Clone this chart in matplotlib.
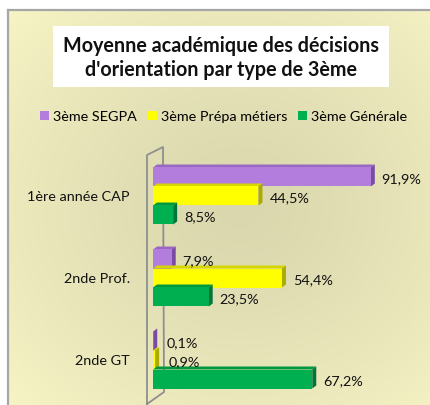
import numpy as np
import matplotlib
matplotlib.use("Agg")
import matplotlib.pyplot as plt
from matplotlib.patches import Patch, Rectangle
from matplotlib.lines import Line2D

plt.rcParams['font.family'] = ['Lato', 'DejaVu Sans']

categories = ["1ère année CAP", "2nde Prof.", "2nde GT"]
series = ["3ème SEGPA", "3ème Prépa métiers", "3ème Générale"]
values = {
    "3ème SEGPA": [91.9, 7.9, 0.1],
    "3ème Prépa métiers": [44.5, 54.4, 0.9],
    "3ème Générale": [8.5, 23.5, 67.2],
}
colors = ["#b27ddc", "#ffff00", "#00b050"]
top_colors = ["#9968c2", "#d6d600", "#00983f"]
side_colors = ["#7a4ba3", "#aaaa00", "#00763a"]
title = "Moyenne académique des décisions\nd'orientation par type de 3ème"

W, H = 430, 405
fig = plt.figure(figsize=(W / 100, H / 100), dpi=100)
fig.patch.set_facecolor("white")

def fx(px):
    return px / W

def fy(py):
    return 1 - py / H

# background frame with radial gradient
bg = fig.add_axes([fx(8), 0, 1 - fx(8), 1 - (10 / H)], zorder=-5)
ny, nx = 200, 220
yy, xx = np.mgrid[0:1:ny * 1j, 0:1:nx * 1j]
r = np.sqrt(((xx - 0.55) / 0.8) ** 2 + ((yy - 0.5) / 0.75) ** 2)
t = np.clip(r, 0, 1) ** 1.3
c_dark = np.array([0xda, 0xd7, 0xae]) / 255
c_light = np.array([0xf8, 0xf6, 0xc6]) / 255
img = c_dark[None, None, :] * (1 - t[..., None]) + c_light[None, None, :] * t[..., None]
bg.imshow(img, aspect="auto", extent=[0, 1, 0, 1], origin="upper")
bg.set_xlim(0, 1)
bg.set_ylim(0, 1)
bg.set_xticks([])
bg.set_yticks([])
for s in ["right", "bottom"]:
    bg.spines[s].set_visible(False)
for s in ["left", "top"]:
    bg.spines[s].set_color("#a6a6a6")
    bg.spines[s].set_linewidth(1.6)

# title box
fig.patches.append(Rectangle((fx(53), fy(87)), fx(389) - fx(53), fy(26) - fy(87),
                             transform=fig.transFigure, facecolor="white",
                             edgecolor="none", zorder=1))
fig.text(fx(221), fy(58), title, ha="center", va="center", fontsize=14.2,
         fontweight="bold", linespacing=1.2, color="#111111", zorder=2)

# legend
handles = [Patch(facecolor=c, edgecolor="none") for c in colors]
fig.legend(handles, series, loc="center", bbox_to_anchor=(fx(224), fy(117)),
           ncol=3, frameon=False, fontsize=10.4, handlelength=0.6,
           handleheight=0.6, handletextpad=0.3, columnspacing=0.75,
           borderaxespad=0, borderpad=0)

# main axes
ax = fig.add_axes([fx(148), fy(400), fx(420) - fx(148), fy(150) - fy(400)])
ax.set_facecolor("none")
px_per_x = 2.37
px_per_y = 82.0
x0 = -5 / px_per_x
ax.set_xlim(x0, x0 + 272 / px_per_x)
ax.set_ylim(2 + 40 / px_per_y, -46 / px_per_y)

bh = 19 / px_per_y
dx = 4 / px_per_x
dy = 3 / px_per_y
ypos = np.arange(len(categories))
offsets = [-bh, 0, bh]

# wall (decoration)
wall = [(147, 404), (147, 155), (163, 147), (164, 392), (147, 404)]
ax.add_line(Line2D([fx(p[0]) for p in wall], [fy(p[1]) for p in wall],
                   transform=fig.transFigure, color="#8f8f8f", lw=1.3,
                   zorder=0.5, clip_on=False))

for i, s in enumerate(series):
    v = np.array(values[s])
    yc = ypos + offsets[i]
    z = 2 + i * 0.1
    for y, val in zip(yc, v):
        top = y - bh / 2
        bot = y + bh / 2
        ax.fill([0, val, val + dx, dx], [top, top, top - dy, top - dy],
                color=top_colors[i], lw=0, zorder=z)
        ax.fill([val, val + dx, val + dx, val], [top, top - dy, bot - dy, bot],
                color=side_colors[i], lw=0, zorder=z)
    ax.barh(yc, v, height=bh, color=colors[i], zorder=z + 0.05)
    for y, val in zip(yc, v):
        off = 5 if val > 2 else 7
        ax.annotate(f"{val:.1f}%".replace(".", ","), (val + dx, y),
                    xytext=(off, -1.5), textcoords="offset points",
                    ha="left", va="center", fontsize=10.4, color="#111111",
                    zorder=5, annotation_clip=False)

ax.set_yticks(ypos)
ax.set_yticklabels(categories, fontsize=10.4, color="#111111")
ax.tick_params(axis="y", length=0, pad=13)
ax.set_xticks([])
for s in ax.spines.values():
    s.set_visible(False)
ax.set_xlim(x0, x0 + 272 / px_per_x)
ax.set_ylim(2 + 40 / px_per_y, -46 / px_per_y)

fig.savefig("out.png", dpi=100)
